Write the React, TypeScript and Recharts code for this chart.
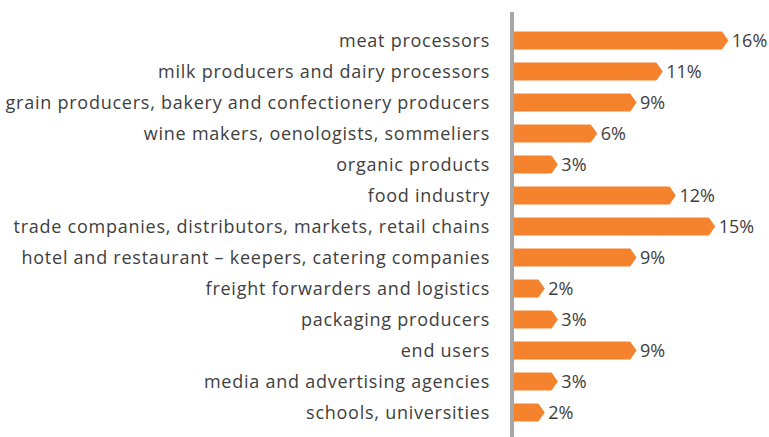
import { Bar, BarChart, LabelList, XAxis, YAxis } from 'recharts'

// categories, top to bottom
const categories = [
  'meat processors',
  'milk producers and dairy processors',
  'grain producers, bakery and confectionery producers',
  'wine makers, oenologists, sommeliers',
  'organic products',
  'food industry',
  'trade companies, distributors, markets, retail chains',
  'hotel and restaurant – keepers, catering companies',
  'freight forwarders and logistics',
  'packaging producers',
  'end users',
  'media and advertising agencies',
  'schools, universities',
]

// share in percent
const shares = [16, 11, 9, 6, 3, 12, 15, 9, 2, 3, 9, 3, 2]

const xDomain = [0, 18.3]

const data = categories.map((name, i) => ({ name, value: shares[i] }))

const FONT = '"Open Sans", Lato, sans-serif'
const ORANGE = '#f5822c'
const TIP = 6

// bar with an arrow-like pointed end
const ArrowBar = (props: { x?: number; y?: number; width?: number; height?: number }) => {
  const { x = 0, y = 0, width = 0, height = 0 } = props
  const r = x + width
  const pts = [
    [x, y],
    [r, y],
    [r + TIP, y + height / 2],
    [r, y + height],
    [x, y + height],
  ]
  return <polygon points={pts.map((p) => p.join(',')).join(' ')} fill={ORANGE} stroke={ORANGE} strokeWidth={1} strokeLinejoin="round" />
}

export default function App() {
  return (
    <div style={{ position: 'absolute', left: 0, top: 0, width: 769, height: 437, background: '#fff' }}>
      <BarChart
        width={769}
        height={437}
        data={data}
        layout="vertical"
        margin={{ top: 12, right: 17, bottom: 0, left: 0 }}
        barSize={17}
      >
        <XAxis type="number" domain={xDomain} hide />
        <YAxis
          type="category"
          dataKey="name"
          width={512}
          padding={{ top: 13, bottom: 9 }}
          tickLine={false}
          tickSize={0}
          tickMargin={22}
          axisLine={{ stroke: '#a6a6a6', strokeWidth: 4 }}
          tick={{ fill: '#404040', fontSize: 18, fontFamily: FONT, letterSpacing: 0.75 }}
          interval={0}
        />
        <Bar dataKey="value" shape={<ArrowBar />} isAnimationActive={false}>
          <LabelList
            dataKey="value"
            position="right"
            offset={TIP + 4}
            formatter={(v: number) => `${v}%`}
            style={{ fill: '#404040', fontSize: 18, fontFamily: FONT }}
          />
        </Bar>
      </BarChart>
    </div>
  )
}
